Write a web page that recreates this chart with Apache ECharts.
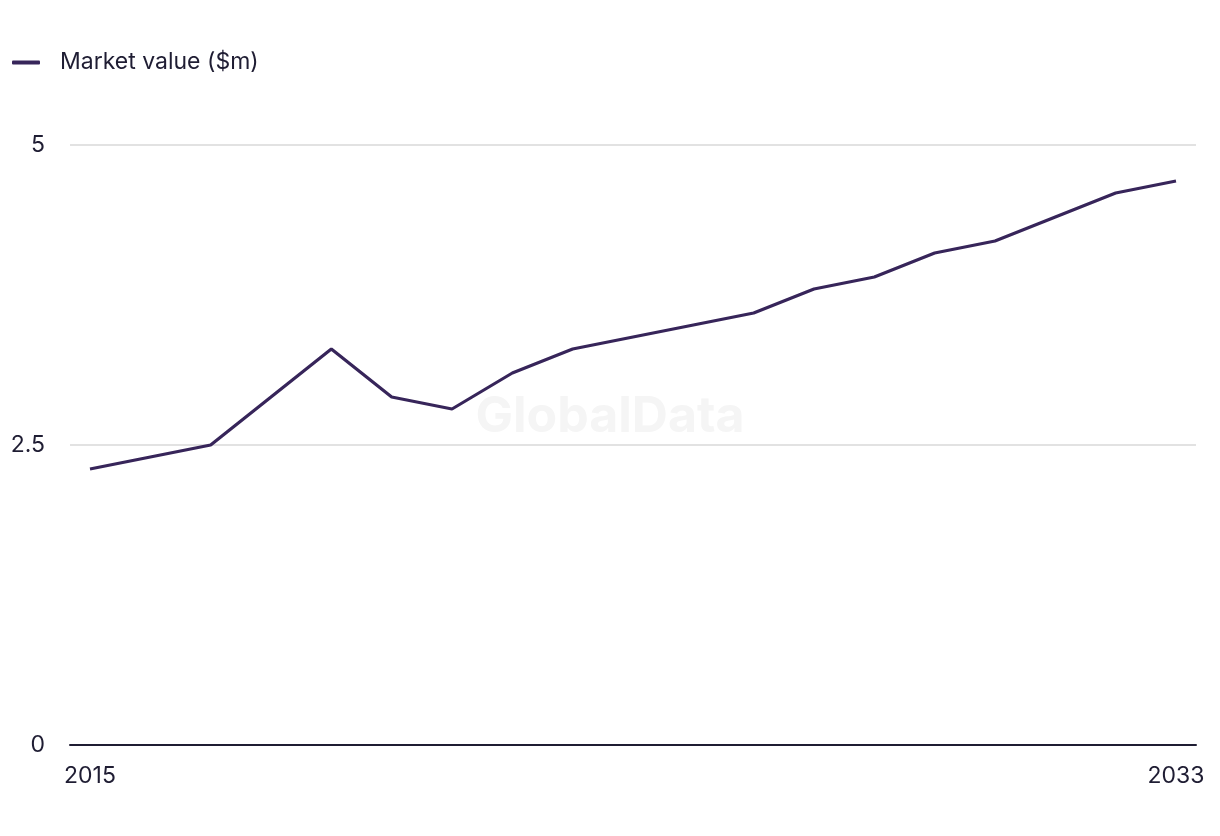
<!DOCTYPE html>
<html>
<head>
<meta charset="utf-8">
<script src="https://cdn.jsdelivr.net/npm/echarts@6/dist/echarts.min.js"></script>
<style>
html,body{margin:0;padding:0;background:#fff;}
#chart{width:1220px;height:836px;}
</style>
</head>
<body>
<div id="chart"></div>
<script>
const years = [2015,2016,2017,2018,2019,2020,2021,2022,2023,2024,2025,2026,2027,2028,2029,2030,2031,2032,2033];
const marketValue = [2.3,2.4,2.5,2.9,3.3,2.9,2.8,3.1,3.3,3.4,3.5,3.6,3.8,3.9,4.1,4.2,4.4,4.6,4.7];
const xTickLabels = [2015, 2033];
const yTicks = [0, 2.5, 5];
const seriesName = 'Market value ($m)';

const textColor = '#1f1d33';
const fontFamily = 'Inter, "Noto Sans", sans-serif';
const chart = echarts.init(document.getElementById('chart'), null, {renderer:'canvas'});
chart.setOption({
  animation:false,
  backgroundColor:'#ffffff',
  textStyle:{fontFamily:fontFamily},
  graphic:[{
    type:'text', left:'center', top:392, z:0, silent:true,
    style:{text:'GlobalData', fill:'#f5f5f5', font:'bold 50px Inter, "Noto Sans", sans-serif'}
  }],
  legend:{
    left:12, top:51, padding:0, itemWidth:28, itemHeight:4, itemGap:20,
    icon:'roundRect',
    textStyle:{fontSize:23, color:textColor, fontFamily:fontFamily, padding:[0,0,0,15]},
    data:[seriesName]
  },
  grid:{left:70, right:24, top:145, bottom:91, containLabel:false},
  xAxis:{
    type:'value',
    min:2014.6685, max:2033.3315,
    axisLine:{show:true, lineStyle:{color:textColor, width:2}},
    axisTick:{show:false},
    splitLine:{show:false},
    axisLabel:{
      customValues:xTickLabels,
      formatter:v=>String(v),
      fontSize:23, color:textColor, margin:20
    }
  },
  yAxis:{
    type:'value', min:yTicks[0], max:yTicks[yTicks.length-1], interval:2.5,
    axisLine:{show:false}, axisTick:{show:false},
    splitLine:{lineStyle:{color:'#d9d9d9', width:1.5}},
    axisLabel:{fontSize:23, color:textColor, margin:25}
  },
  series:[{
    name:seriesName, type:'line',
    data:years.map((y,i)=>[y, marketValue[i]]),
    showSymbol:false, symbol:'none',
    lineStyle:{color:'#37255a', width:3.2},
    itemStyle:{color:'#37255a'},
    z:3
  }]
});
</script>
</body>
</html>
